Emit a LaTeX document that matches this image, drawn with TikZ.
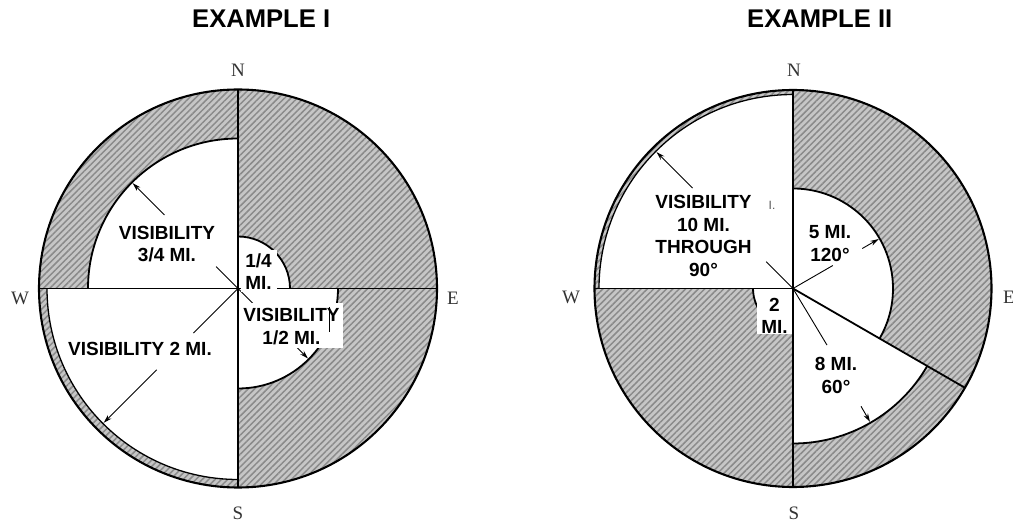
\documentclass[tikz,border=0pt]{standalone}
\usepackage{fontspec}
\newfontfamily\lab{Liberation Sans}
\newfontfamily\cmpfont{Liberation Serif}
\usetikzlibrary{calc,patterns.meta,arrows.meta}
\definecolor{hatchbg}{HTML}{C6C6C6}
\definecolor{hatchfg}{HTML}{8A8A8A}
\definecolor{compass}{HTML}{333333}
\tikzset{
  hatched/.style={fill=hatchbg, postaction={pattern={Lines[angle=45,distance=4.5pt,line width=1.5pt]}, pattern color=hatchfg}},
  edge/.style={line width=1.8pt, black},
  rim/.style={line width=2.1pt, black},
  leader/.style={line width=0.9pt, black},
  arr/.style={line width=0.9pt, black, -{Stealth[length=8.5pt,width=5pt]}},
  lbl/.style={font=\lab\bfseries\fontsize{19}{22.5}\selectfont, align=center, inner sep=0pt},
  ttl/.style={font=\lab\bfseries\fontsize{25.6}{30}\selectfont, anchor=base west, inner sep=0pt},
  cmp/.style={font=\cmpfont\fontsize{19}{19}\selectfont, text=compass, inner sep=0pt}
}
\begin{document}
\begin{tikzpicture}[x=1pt,y=1pt,line join=round]
\useasboundingbox (0,0) rectangle (1013,-529);
\coordinate (O1) at (238,-288.5);
\coordinate (O2) at (793,-288.5);

% ---------- titles ----------
\node[ttl] (t1) at (192,-27.3) {EXAMPLE I};
\node[ttl] (t2) at (747,-27.3) {EXAMPLE II};

% ---------- Example I ----------
\fill[hatched] (O1) circle[radius=199];
\fill[white] (O1) -- ++(90:150) arc[start angle=90,end angle=180,radius=150] -- cycle;
\fill[white] (O1) -- ++(0:52) arc[start angle=0,end angle=90,radius=52] -- cycle;
\fill[white] (O1) -- ++(-90:100) arc[start angle=-90,end angle=0,radius=100] -- cycle;
\fill[white] (O1) -- ++(180:191) arc[start angle=180,end angle=270,radius=191] -- cycle;
\draw[edge] ($(O1)+(90:150)$) arc[start angle=90,end angle=180,radius=150];
\draw[edge] ($(O1)+(0:52)$) arc[start angle=0,end angle=90,radius=52];
\draw[edge] ($(O1)+(-90:100)$) arc[start angle=-90,end angle=0,radius=100];
\draw[line width=1.3pt] ($(O1)+(180:191)$) arc[start angle=180,end angle=270,radius=191];
\draw[edge] ($(O1)+(-199,0)$) -- ($(O1)+(199,0)$);
\draw[edge] ($(O1)+(0,199)$) -- ($(O1)+(0,-199)$);
\draw[rim] (O1) circle[radius=199];

\draw[leader] (O1) -- ++(135:31);
\draw[arr] ($(O1)+(135:104)$) -- ($(O1)+(135:149)$);
\draw[arr] (O1) -- ($(O1)+(-45:99)$);
\draw[leader] (O1) -- ++(225:63);
\draw[arr] ($(O1)+(225:115)$) -- ($(O1)+(225:190)$);

\fill[white] (241,-250) rectangle (277,-292);
\fill[white] (240,-303) rectangle (343,-348);

\node[lbl] (v34) at (167,-244) {VISIBILITY\\3/4 MI.};
\node[lbl] (q14) at (258.5,-271.5) {1/4\\MI.};
\node[lbl] (v12) at (291.5,-326.5) {VISIBILITY\\1/2 MI.};
\node[lbl] (v2) at (140,-348.5) {VISIBILITY 2 MI.};
\draw[line width=0.9pt] (329,-307) -- (329,-332);

\node[cmp] (n1) at (238,-70) {N};
\node[cmp] (s1) at (238,-513) {S};
\node[cmp] (w1) at (20,-298) {W};
\node[cmp] (e1) at (453,-298) {E};

% ---------- Example II ----------
\fill[hatched] (O2) circle[radius=198.5];
\fill[white] (O2) -- ++(90:194) arc[start angle=90,end angle=180,radius=194] -- cycle;
\fill[white] (O2) -- ++(-30:100) arc[start angle=-30,end angle=90,radius=100] -- cycle;
\fill[white] (O2) -- ++(-90:155) arc[start angle=-90,end angle=-30,radius=155] -- cycle;
\fill[white] (O2) -- ++(180:40) arc[start angle=180,end angle=270,radius=40] -- cycle;
\draw[line width=1.3pt] ($(O2)+(90:194)$) arc[start angle=90,end angle=180,radius=194];
\draw[edge] ($(O2)+(-30:100)$) arc[start angle=-30,end angle=90,radius=100];
\draw[edge] ($(O2)+(-90:155)$) arc[start angle=-90,end angle=-30,radius=155];
\draw[edge] ($(O2)+(180:40)$) arc[start angle=180,end angle=270,radius=40];
\draw[edge] (O2) -- ++(90:198.5);
\draw[edge] (O2) -- ++(180:198.5);
\draw[edge] (O2) -- ++(270:198.5);
\draw[edge] (O2) -- ++(-30:198.5);
\draw[rim] (O2) circle[radius=198.5];

\draw[leader] (O2) -- ++(135:38);
\draw[arr] ($(O2)+(135:142)$) -- ($(O2)+(135:193)$);
\draw[leader] (O2) -- ++(30:46);
\draw[arr] ($(O2)+(30:80)$) -- ($(O2)+(30:99)$);
\draw[leader] (O2) -- ++(-59:66);
\draw[arr] ($(O2)+(-60:136)$) -- ($(O2)+(-60:154)$);

\fill[white] (757,-290) rectangle (791.5,-334);

\node[lbl] (v10) at (703.5,-236) {VISIBILITY\\10 MI.\\THROUGH\\90°};
\node[lbl] (v5) at (830,-243.5) {5 MI.\\120°};
\node[lbl] (v8) at (836,-375.5) {8 MI.\\60°};
\node[lbl] (v2b) at (774.5,-316) {2\\MI.};
\node[font=\lab\fontsize{12}{12}\selectfont, text=black!65, inner sep=0pt] (art) at (772,-205) {I.};

\node[cmp] (n2) at (794,-70) {N};
\node[cmp] (s2) at (794,-513) {S};
\node[cmp] (w2) at (571,-297) {W};
\node[cmp] (e2) at (1009,-297) {E};
\end{tikzpicture}
\end{document}
